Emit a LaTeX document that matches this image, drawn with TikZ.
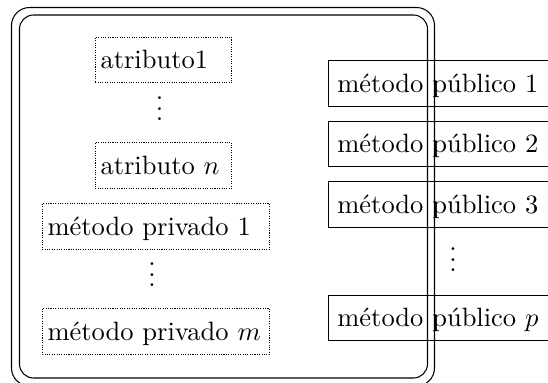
\documentclass[tikz,border=0pt]{standalone}
\usepackage{tikz}
\usetikzlibrary{positioning}
\tikzset{>=stealth}
\tikzset{
  atrbox/.style={draw,dash pattern=on 0.4pt off 0.5pt,anchor=west,align=left,text width=47.5pt,
    inner xsep=2pt,inner ysep=3.33pt,text height=8.7pt,text depth=1.94pt},
  privbox/.style={atrbox,text width=81.8pt},
  pubbox/.style={draw,anchor=west,align=left,text width=85pt,
    inner xsep=3.33pt,inner ysep=3.33pt,text height=8.7pt,text depth=1.94pt},
  dotsnode/.style={anchor=south,inner sep=0pt}
}

\begin{document}
\begin{tikzpicture}[x=0.3774pt,y=-0.3774pt]
    \useasboundingbox (0,0) rectangle (548,382);
    \draw[rounded corners=6.8pt] (11.5,7.5) rectangle (434.5,386);
    \draw[rounded corners=5.3pt] (19.5,15) rectangle (427.5,378);
    \node[atrbox] (atr1) at (94.7,60) {atributo1};
    \node[dotsnode] (atrdots) at (159.5,121.5) {$\vdots$};
    \node[atrbox] (atrn) at (94.7,165.5) {atributo $n$};
    \node[privbox] (priv1) at (41.7,226.5) {método privado 1};
    \node[dotsnode] (privdots) at (152,287.5) {$\vdots$};
    \node[privbox] (privm) at (41.7,331.5) {método privado $m$};
    \node[pubbox] (pub1) at (328,83.3) {método público 1};
    \node[pubbox] (pub2) at (328,144) {método público 2};
    \node[pubbox] (pub3) at (328,204.5) {método público 3};
    \node[dotsnode] (pubdots) at (453,272.5) {$\vdots$};
    \node[pubbox] (pubp) at (328,318) {método público $p$};
  \end{tikzpicture}
\end{document}
